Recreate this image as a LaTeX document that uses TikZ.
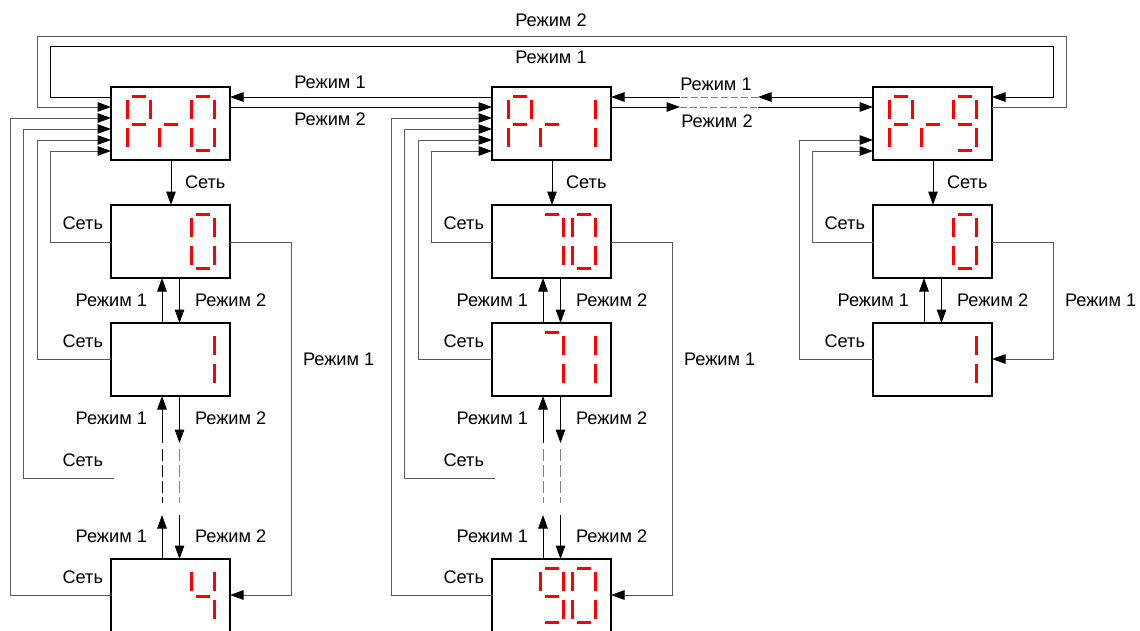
\documentclass[tikz,border=0pt]{standalone}
\usepackage{fontspec}
\setmainfont{Liberation Sans}
\usetikzlibrary{arrows.meta,calc}
\tikzset{
  disp/.style={draw, line width=2pt, minimum width=119pt, minimum height=73pt, inner sep=0pt, outer sep=0pt, anchor=north west},
  conn/.style={line width=1pt, draw=black},
  fb/.style={line width=1pt, draw=black!65},
  arr/.style={-{Triangle[length=13.5pt,width=9.5pt,color=black]}},
  lbl/.style={font=\fontsize{18.2}{21}\selectfont, inner sep=0pt, outer sep=0pt},
  segline/.style={draw=red, line width=3pt},
  gdash/.style={draw=black!50, line width=1pt, dash pattern=on 12pt off 4pt},
  hdash/.style={draw=black!50, line width=1pt, dash pattern=on 7pt off 3pt},
}
\newcommand\segdigit[3]{\def\sgbox{#1}\def\sgL{#2}\pgfkeys{/sgm/.cd,#3}}
\pgfkeys{/sgm/.cd,
  a/.code={\draw[segline] ($(\sgbox.north west)+(\sgL+5,9)$) -- ++(14,0);},
  b/.code={\draw[segline] ($(\sgbox.north west)+(\sgL+23,13)$) -- ++(0,19);},
  c/.code={\draw[segline] ($(\sgbox.north west)+(\sgL+23,41)$) -- ++(0,19);},
  d/.code={\draw[segline] ($(\sgbox.north west)+(\sgL+5,63.5)$) -- ++(14,0);},
  e/.code={\draw[segline] ($(\sgbox.north west)+(\sgL,41)$) -- ++(0,19);},
  f/.code={\draw[segline] ($(\sgbox.north west)+(\sgL,13)$) -- ++(0,19);},
  g/.code={\draw[segline] ($(\sgbox.north west)+(\sgL+5,37)$) -- ++(14,0);},
}
\begin{document}
\begin{tikzpicture}[x=1pt,y=-1pt]
\useasboundingbox (0,0) rectangle (1140,630);
\clip (0,0) rectangle (1140,630);
% boxes
\node[disp] (p0) at (111,87) {};
\node[disp] (p1) at (492,87) {};
\node[disp] (p9) at (873,87) {};
\node[disp] (b00) at (111,205) {};
\node[disp] (b01) at (111,323) {};
\node[disp] (b04) at (111,559) {};
\node[disp] (b10) at (492,205) {};
\node[disp] (b11) at (492,323) {};
\node[disp] (b19) at (492,559) {};
\node[disp] (b20) at (873,205) {};
\node[disp] (b21) at (873,323) {};
% digits
\segdigit{p0}{16}{a,b,e,f,g}\segdigit{p0}{48}{e,g}\segdigit{p0}{80}{a,b,c,d,e,f}
\segdigit{p1}{16}{a,b,e,f,g}\segdigit{p1}{48}{e,g}\segdigit{p1}{80}{b,c}
\segdigit{p9}{16}{a,b,e,f,g}\segdigit{p9}{48}{e,g}\segdigit{p9}{80}{a,b,c,d,f,g}
\segdigit{b00}{80}{a,b,c,d,e,f}
\segdigit{b01}{80}{b,c}
\segdigit{b04}{80}{b,c,f,g}
\segdigit{b10}{48}{a,b,c}\segdigit{b10}{80}{a,b,c,d,e,f}
\segdigit{b11}{48}{a,b,c}\segdigit{b11}{80}{b,c}
\segdigit{b19}{48}{a,b,c,d,f,g}\segdigit{b19}{80}{a,b,c,d,e,f}
\segdigit{b20}{80}{a,b,c,d,e,f}
\segdigit{b21}{80}{b,c}
% top loops
\draw[conn,arr] ($(p0.north west)+(0,10)$) -- ++(-61,0) -- ++(0,-51) -- ++(1003,0) -- ++(0,51) -- ($(p9.north east)+(0,10)$);
\draw[fb,arr] ($(p9.north east)+(0,20)$) -- ++(74,0) -- ++(0,-71) -- ++(-1029,0) -- ++(0,71) -- ($(p0.north west)+(0,20)$);
\node[lbl,anchor=base] (tm2) at ($(p0.north west)+(440,-61)$) {Режим 2};
\node[lbl,anchor=base] (tm1) at ($(p0.north west)+(440,-24)$) {Режим 1};
% Pr0 <-> Pr1
\draw[conn,arr] ($(p1.north west)+(0,10)$) -- ($(p0.north east)+(0,10)$);
\draw[conn,arr] ($(p0.north east)+(0,20)$) -- ($(p1.north west)+(0,20)$);
\node[lbl,anchor=base] (m01a) at ($(p0.north east)+(100,1)$) {Режим 1};
\node[lbl,anchor=base] (m01b) at ($(p0.north east)+(100,38)$) {Режим 2};
% Pr1 <-> Pr9
\coordinate (ra) at ($(p1.north east)+(69,10)$);
\coordinate (rb) at ($(p9.north west)+(-115,10)$);
\coordinate (rc) at ($(p1.north east)+(69,20)$);
\coordinate (rd) at ($(p9.north west)+(-115,20)$);
\draw[conn,arr] ($(p9.north west)+(0,10)$) -- (rb);
\draw[hdash] (rb) -- (ra);
\draw[conn,arr] (ra) -- ($(p1.north east)+(0,10)$);
\draw[conn,arr] ($(p1.north east)+(0,20)$) -- (rc);
\draw[hdash] (rc) -- (rd);
\draw[conn,arr] (rd) -- ($(p9.north west)+(0,20)$);
\node[lbl,anchor=base] (m19a) at ($(p1.north east)+(105,3)$) {Режим 1};
\node[lbl,anchor=base] (m19b) at ($(p1.north east)+(106,40)$) {Режим 2};
% columns 0 and 1
\foreach \p/\ba/\bb/\bc/\dc in {p0/b00/b01/b04/black, p1/b10/b11/b19/black!50}{
  \draw[conn,arr] ($(\p.south west)+(60,0)$) -- ($(\ba.north west)+(60,0)$);
  \node[lbl,anchor=base west] (\p-n) at ($(\p.south west)+(74,28)$) {Сеть};
  \draw[conn,arr] ($(\bb.north west)+(51,0)$) -- ($(\ba.south west)+(51,0)$);
  \draw[conn,arr] ($(\ba.south west)+(68.5,0)$) -- ($(\bb.north west)+(68.5,0)$);
  \node[lbl,anchor=base east] (\p-ma1) at ($(\ba.south west)+(36,28)$) {Режим 1};
  \node[lbl,anchor=base west] (\p-ma2) at ($(\ba.south west)+(84,28)$) {Режим 2};
  \coordinate (\p-u1) at ($(\bb.south west)+(51,47)$);
  \coordinate (\p-u2) at ($(\bb.south west)+(68.5,47)$);
  \draw[conn,arr] (\p-u1) -- ($(\bb.south west)+(51,0)$);
  \draw[conn,arr] ($(\bb.south west)+(68.5,0)$) -- (\p-u2);
  \node[lbl,anchor=base east] (\p-mb1) at ($(\bb.south west)+(36,28)$) {Режим 1};
  \node[lbl,anchor=base west] (\p-mb2) at ($(\bb.south west)+(84,28)$) {Режим 2};
  \draw[line width=1pt, draw=\dc, dash pattern=on 12pt off 4pt] ($(\bb.south west)+(51,53)$) -- ++(0,54);
  \draw[gdash] ($(\bb.south west)+(68.5,53)$) -- ++(0,54);
  \coordinate (\p-l1) at ($(\bc.north west)+(51,-44)$);
  \coordinate (\p-l2) at ($(\bc.north west)+(68.5,-44)$);
  \draw[conn,arr] ($(\bc.north west)+(51,0)$) -- (\p-l1);
  \draw[conn,arr] (\p-l2) -- ($(\bc.north west)+(68.5,0)$);
  \node[lbl,anchor=base east] (\p-mc1) at ($(\bc.north west)+(36,-17)$) {Режим 1};
  \node[lbl,anchor=base west] (\p-mc2) at ($(\bc.north west)+(84,-17)$) {Режим 2};
  % feedback lines
  \draw[fb,arr] ($(\ba.north west)+(0,37)$) -- ++(-61,0) |- ($(\p.north west)+(0,64)$);
  \node[lbl,anchor=base east] (\p-sa) at ($(\ba.north west)+(-8,24)$) {Сеть};
  \draw[fb,arr] ($(\bb.north west)+(0,36)$) -- ++(-74,0) |- ($(\p.north west)+(0,53)$);
  \node[lbl,anchor=base east] (\p-sb) at ($(\bb.north west)+(-8,24)$) {Сеть};
  \coordinate (\p-d) at ($(\bb.south west)+(3,82)$);
  \draw[fb,arr] (\p-d) -- ++(-91,0) |- ($(\p.north west)+(0,42)$);
  \node[lbl,anchor=base east] (\p-sd) at ($(\bb.south west)+(-8,70)$) {Сеть};
  \draw[fb,arr] ($(\bc.north west)+(0,36)$) -- ++(-101,0) |- ($(\p.north west)+(0,31)$);
  \node[lbl,anchor=base east] (\p-sc) at ($(\bc.north west)+(-8,24)$) {Сеть};
  % right loop
  \draw[fb,arr] ($(\ba.north east)+(0,37)$) -- ++(61,0) |- ($(\bc.north east)+(0,36)$);
  \node[lbl,anchor=base west] (\p-r) at ($(\ba.north east)+(73,160)$) {Режим 1};
}
% column 9
\draw[conn,arr] ($(p9.south west)+(60,0)$) -- ($(b20.north west)+(60,0)$);
\node[lbl,anchor=base west] (p9-n) at ($(p9.south west)+(74,28)$) {Сеть};
\draw[conn,arr] ($(b21.north west)+(51,0)$) -- ($(b20.south west)+(51,0)$);
\draw[conn,arr] ($(b20.south west)+(68.5,0)$) -- ($(b21.north west)+(68.5,0)$);
\node[lbl,anchor=base east] (p9-ma1) at ($(b20.south west)+(36,28)$) {Режим 1};
\node[lbl,anchor=base west] (p9-ma2) at ($(b20.south west)+(84,28)$) {Режим 2};
\draw[fb,arr] ($(b20.north west)+(0,37)$) -- ++(-61,0) |- ($(p9.north west)+(0,64)$);
\node[lbl,anchor=base east] (p9-sa) at ($(b20.north west)+(-8,24)$) {Сеть};
\draw[fb,arr] ($(b21.north west)+(0,36)$) -- ++(-74,0) |- ($(p9.north west)+(0,53)$);
\node[lbl,anchor=base east] (p9-sb) at ($(b21.north west)+(-8,24)$) {Сеть};
\draw[fb,arr] ($(b20.north east)+(0,37)$) -- ++(61,0) |- ($(b21.north east)+(0,36)$);
\node[lbl,anchor=base west] (p9-r) at ($(b20.north east)+(73,101)$) {Режим 1};
\end{tikzpicture}
\end{document}
